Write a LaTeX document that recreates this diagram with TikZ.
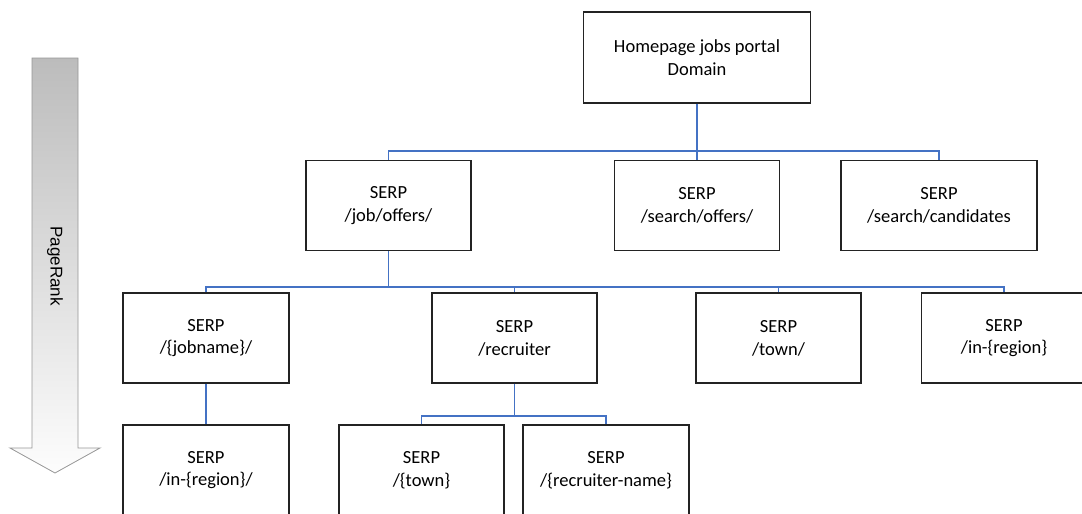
\documentclass[tikz,border=0pt]{standalone}
\usepackage{fontspec}
\setmainfont{Carlito}
\newfontfamily\arrowfont{Liberation Sans}
\definecolor{linkblue}{RGB}{68,114,196}
\definecolor{boxline}{RGB}{35,35,35}
\definecolor{arrowtop}{RGB}{188,188,188}
\definecolor{arrowbot}{RGB}{253,253,253}
\definecolor{arrowedge}{RGB}{150,150,150}
\begin{document}
\begin{tikzpicture}[x=1pt,y=-1pt,
  pagebox/.style={draw=boxline, line width=1.2pt, fill=white, align=center,
    inner sep=0pt, minimum height=90pt, minimum width=#1,
    font=\fontsize{18.5}{22.8}\selectfont},
  pagebox/.default=165pt,
  link/.style={draw=linkblue, line width=1.2pt}]
\useasboundingbox (0,0) rectangle (1082,514);
\clip (0,0) rectangle (1082,514);

% PageRank arrow
\path[draw=arrowedge, line width=0.8pt, top color=arrowtop, bottom color=arrowbot]
  (32,58) -- (78,58) -- (78,448) -- (100,448) -- (55,473) -- (10,448) -- (32,448) -- cycle;
\node[rotate=-90, font=\arrowfont\fontsize{17}{20}\selectfont] (rank) at (55,266) {PageRank};

% page nodes
\node[pagebox=227pt, minimum height=91pt] (home) at (697,57.5) {Homepage jobs portal\\Domain};

\node[pagebox] (joboffers) at (388.5,205.5) {SERP\\/job/offers/};
\node[pagebox] (searchoffers) at (697,205.5) {SERP\\/search/offers/};
\node[pagebox=196pt] (candidates) at (939,205.5) {SERP\\/search/candidates};

\node[pagebox=166pt] (jobname) at (206,338) {SERP\\/\{jobname\}/};
\node[pagebox] (recruiter) at (514.5,338) {SERP\\/recruiter};
\node[pagebox] (town) at (778.5,338) {SERP\\/town/};
\node[pagebox] (inregion) at (1004,338) {SERP\\/in-\{region\}};

\node[pagebox=166pt] (jobregion) at (206,470) {SERP\\/in-\{region\}/};
\node[pagebox] (rtown) at (421.5,470) {SERP\\/\{town\}};
\node[pagebox=166pt] (rname) at (606,470) {SERP\\/\{recruiter-name\}};

% bus points
\coordinate (busA) at (697,151);
\coordinate (busB) at (388.5,287);
\coordinate (busC) at (514.5,416);

% connectors
\draw[link] (home.south) -- (busA);
\draw[link] (joboffers.north) |- (busA) -| (candidates.north);
\draw[link] (searchoffers.north) -- (searchoffers.north |- busA);

\draw[link] (joboffers.south) -- (busB);
\draw[link] (jobname.north) |- (busB) -| (inregion.north);
\draw[link] (recruiter.north) -- (recruiter.north |- busB);
\draw[link] (town.north) -- (town.north |- busB);

\draw[link] (jobname.south) -- (jobregion.north);

\draw[link] (recruiter.south) -- (busC);
\draw[link] (rtown.north) |- (busC) -| (rname.north);
\end{tikzpicture}
\end{document}
